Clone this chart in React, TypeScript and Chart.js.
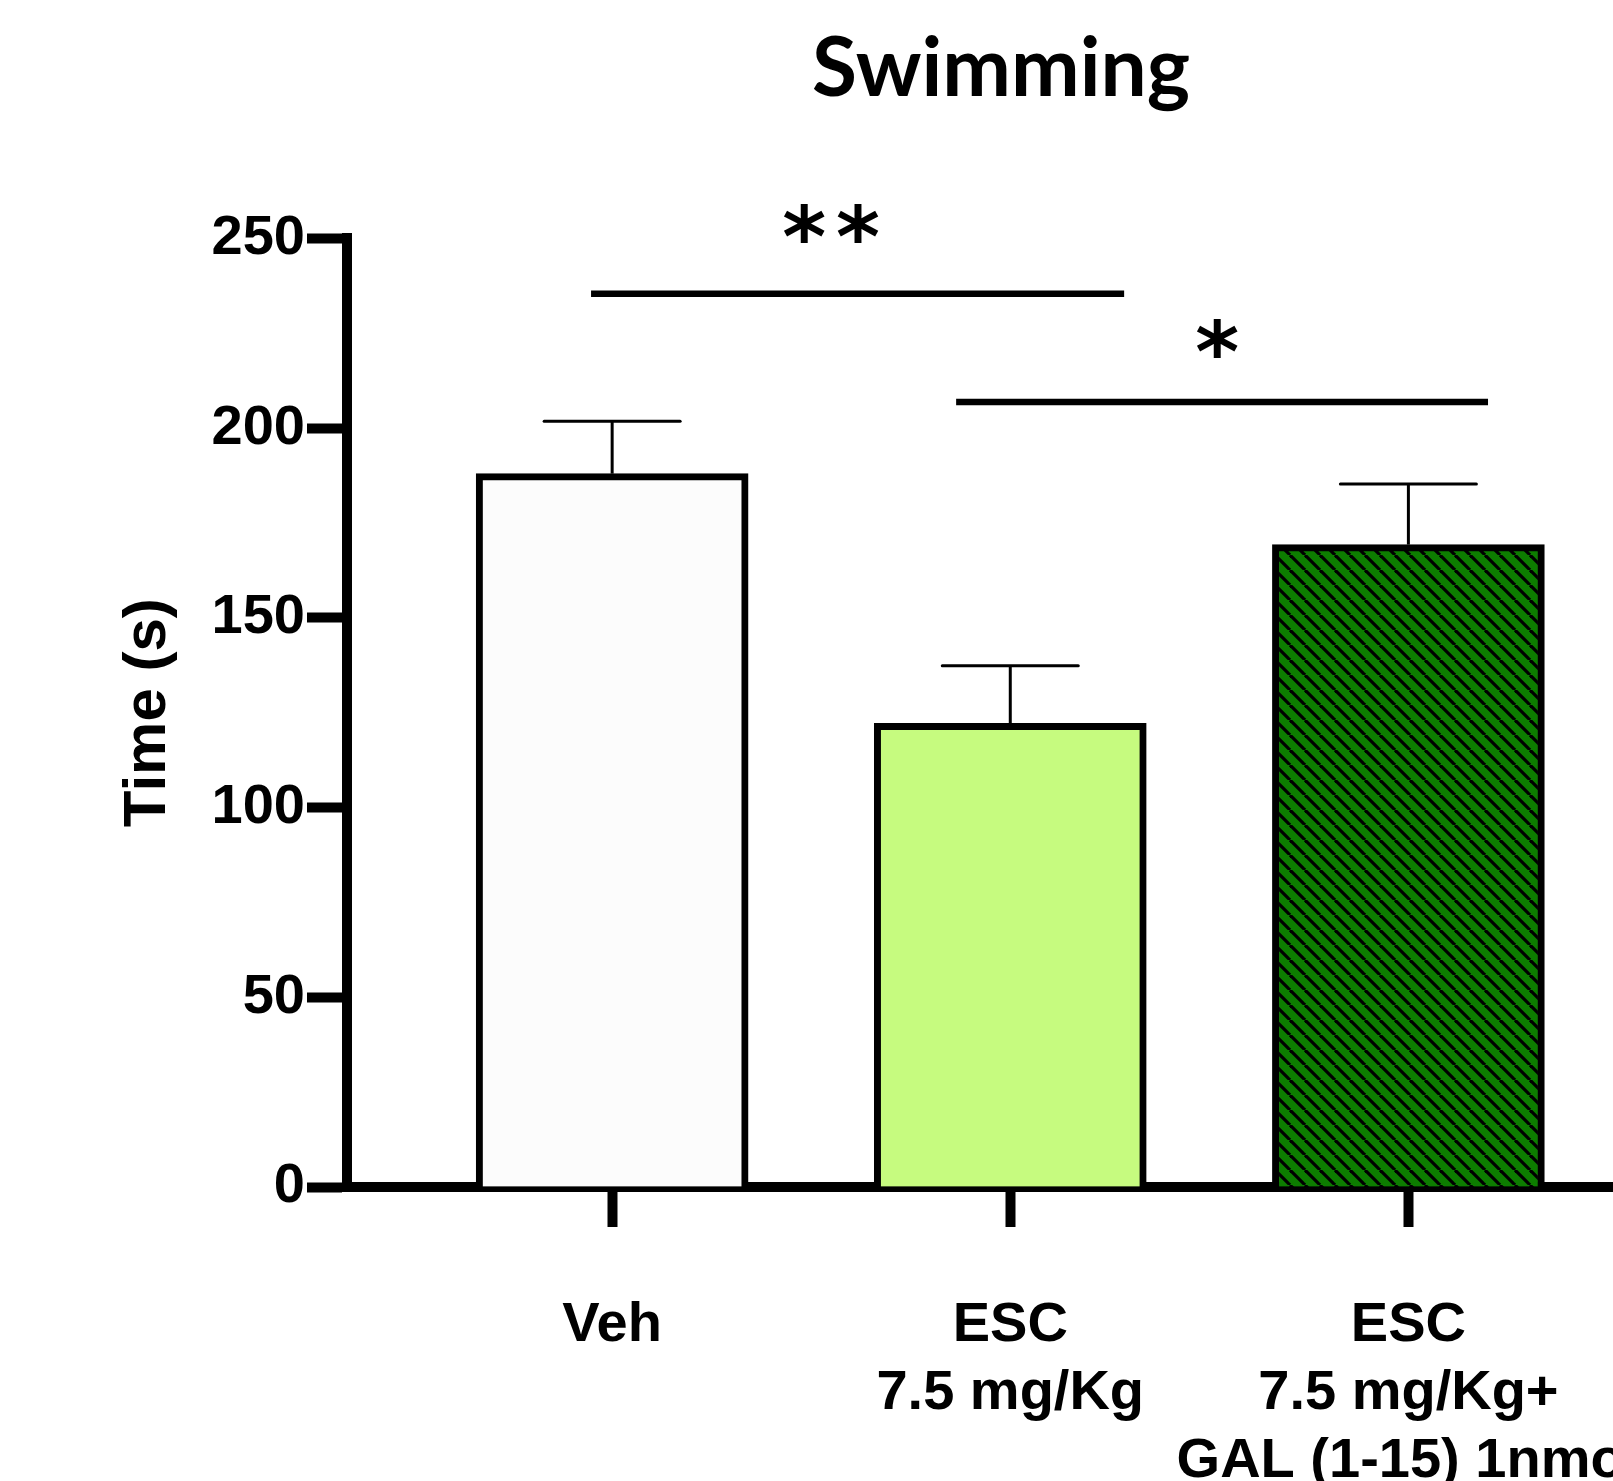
import { useEffect, useRef } from "react";
import { Chart, registerables } from "chart.js";

Chart.register(...registerables);

// ---- data ----
const categories: string[][] = [
  ["Veh"],
  ["ESC", "7.5 mg/Kg"],
  ["ESC", "7.5 mg/Kg+", "GAL (1-15) 1nmol"],
];
const means = [188, 122.2, 169.3];
const sems = [13.8, 15.2, 16.0];
const yMax = 250;
const yStep = 50;

// significance annotations (in axis units)
const sigLabels = ["**", "*"];
const sigFrom = [-0.053, 0.864];
const sigTo = [1.286, 2.2];
const sigLevel = [235.4, 206.9];
const sigTextX = [0.55, 1.52];
const sigTextY = [253.9, 223.6];

const CANVAS_W = 2002;
const CANVAS_H = 1481;

function makeHatch(): CanvasPattern | string {
  const s = 15;
  const c = document.createElement("canvas");
  c.width = s;
  c.height = s;
  const g = c.getContext("2d");
  if (!g) return "#0d7d00";
  g.fillStyle = "#0d7d00";
  g.fillRect(0, 0, s, s);
  g.strokeStyle = "#000";
  g.lineWidth = 3.2;
  for (const o of [-s, 0, s]) {
    g.beginPath();
    g.moveTo(o, 0);
    g.lineTo(o + s, s);
    g.stroke();
  }
  return g.createPattern(c, "repeat") || "#0d7d00";
}

const errorBarPlugin = {
  id: "errorBars",
  afterDatasetsDraw(chart: any) {
    const meta = chart.getDatasetMeta(0);
    const yScale = chart.scales.y;
    const ctx = chart.ctx;
    ctx.save();
    ctx.strokeStyle = "#000";
    ctx.lineWidth = 3;
    meta.data.forEach((bar: any, i: number) => {
      const top = yScale.getPixelForValue(means[i] + sems[i]);
      const half = bar.width / 4;
      ctx.lineCap = "butt";
      ctx.beginPath();
      ctx.moveTo(bar.x, bar.y);
      ctx.lineTo(bar.x, top);
      ctx.stroke();
      ctx.lineCap = "round";
      ctx.beginPath();
      ctx.moveTo(bar.x - half, top);
      ctx.lineTo(bar.x + half, top);
      ctx.stroke();
    });
    ctx.restore();
  },
};

const sigPlugin = {
  id: "significance",
  afterDraw(chart: any) {
    const xs = chart.scales.x;
    const ys = chart.scales.y;
    const ctx = chart.ctx;
    ctx.save();
    ctx.strokeStyle = "#000";
    ctx.fillStyle = "#000";
    ctx.lineWidth = 6.5;
    ctx.lineCap = "butt";
    sigLabels.forEach((lab, i) => {
      const y = ys.getPixelForValue(sigLevel[i]);
      ctx.beginPath();
      ctx.moveTo(xs.getPixelForValue(sigFrom[i]), y);
      ctx.lineTo(xs.getPixelForValue(sigTo[i]), y);
      ctx.stroke();
      ctx.font = "bold 84px 'DejaVu Sans'";
      (ctx as any).letterSpacing = "10px";
      ctx.textAlign = "center";
      ctx.textBaseline = "alphabetic";
      const m = ctx.measureText(lab);
      const ty = ys.getPixelForValue(sigTextY[i]);
      const off = (m.actualBoundingBoxAscent - m.actualBoundingBoxDescent) / 2;
      const extra = lab.length > 1 ? 5 : 5;
      ctx.fillText(lab, xs.getPixelForValue(sigTextX[i]) + extra, ty + off);
      (ctx as any).letterSpacing = "0px";
    });
    ctx.restore();
  },
};

export default function App() {
  const ref = useRef<HTMLCanvasElement | null>(null);

  useEffect(() => {
    if (!ref.current) return;
    const hatch = makeHatch();
    const chart = new Chart(ref.current, {
      type: "bar",
      data: {
        datasets: [
          {
            data: means.map((v, i) => ({ x: i, y: v })) as any,
            backgroundColor: ["#fcfcfc", "#c6fb7f", hatch] as any,
            borderColor: "#000",
            borderWidth: 7,
            barThickness: 272,
          },
        ],
      },
      options: {
        responsive: false,
        devicePixelRatio: 1,
        animation: false,
        layout: { padding: 0 },
        plugins: {
          legend: { display: false },
          tooltip: { enabled: false },
          title: {
            display: true,
            text: "Swimming",
            color: "#000",
            font: { family: "Lato", weight: "bold", size: 82 },
            padding: { top: 20, bottom: 120 },
          },
        },
        scales: {
          x: {
            type: "linear",
            min: -0.666,
            max: 3.491,
            offset: false,
            z: 1,
            grid: {
              offset: false,
              drawOnChartArea: false,
              tickLength: 40,
              tickWidth: 10,
              tickColor: "#000",
            },
            border: { width: 10, color: "#000" },
            afterBuildTicks: (scale: any) => {
              scale.ticks = categories.map((_, i) => ({ value: i }));
            },
            afterFit: (scale: any) => {
              scale.height = 294;
            },
            ticks: {
              autoSkip: false,
              maxRotation: 0,
              minRotation: 0,
              padding: 65,
              color: "#000",
              font: { family: "'Liberation Sans', Arial, sans-serif", weight: "bold", size: 56, lineHeight: 1.214 },
              callback: (v: any) => categories[Math.round(Number(v))] ?? "",
            },
          },
          y: {
            min: 0,
            max: yMax,
            z: 1,
            grid: {
              drawOnChartArea: false,
              tickLength: 40,
              tickWidth: 10,
              tickColor: "#000",
            },
            border: { width: 10, color: "#000" },
            afterFit: (scale: any) => {
              scale.width = 347;
            },
            ticks: {
              stepSize: yStep,
              padding: 2,
              color: "#000",
              font: { family: "'Liberation Sans', Arial, sans-serif", weight: "bold", size: 56 },
            },
            title: {
              display: true,
              text: "Time (s)",
              color: "#000",
              font: { family: "'Liberation Sans', Arial, sans-serif", weight: "bold", size: 60 },
              padding: { top: 112, bottom: 0 },
            },
          },
        },
      },
      plugins: [errorBarPlugin, sigPlugin],
    });
    return () => chart.destroy();
  }, []);

  return (
    <div
      style={{
        position: "fixed",
        left: 0,
        top: 0,
        width: "100vw",
        height: "100vh",
        overflow: "hidden",
        background: "#fff",
      }}
    >
      <canvas
        ref={ref}
        width={CANVAS_W}
        height={CANVAS_H}
        style={{ display: "block", width: CANVAS_W, height: CANVAS_H }}
      />
    </div>
  );
}
